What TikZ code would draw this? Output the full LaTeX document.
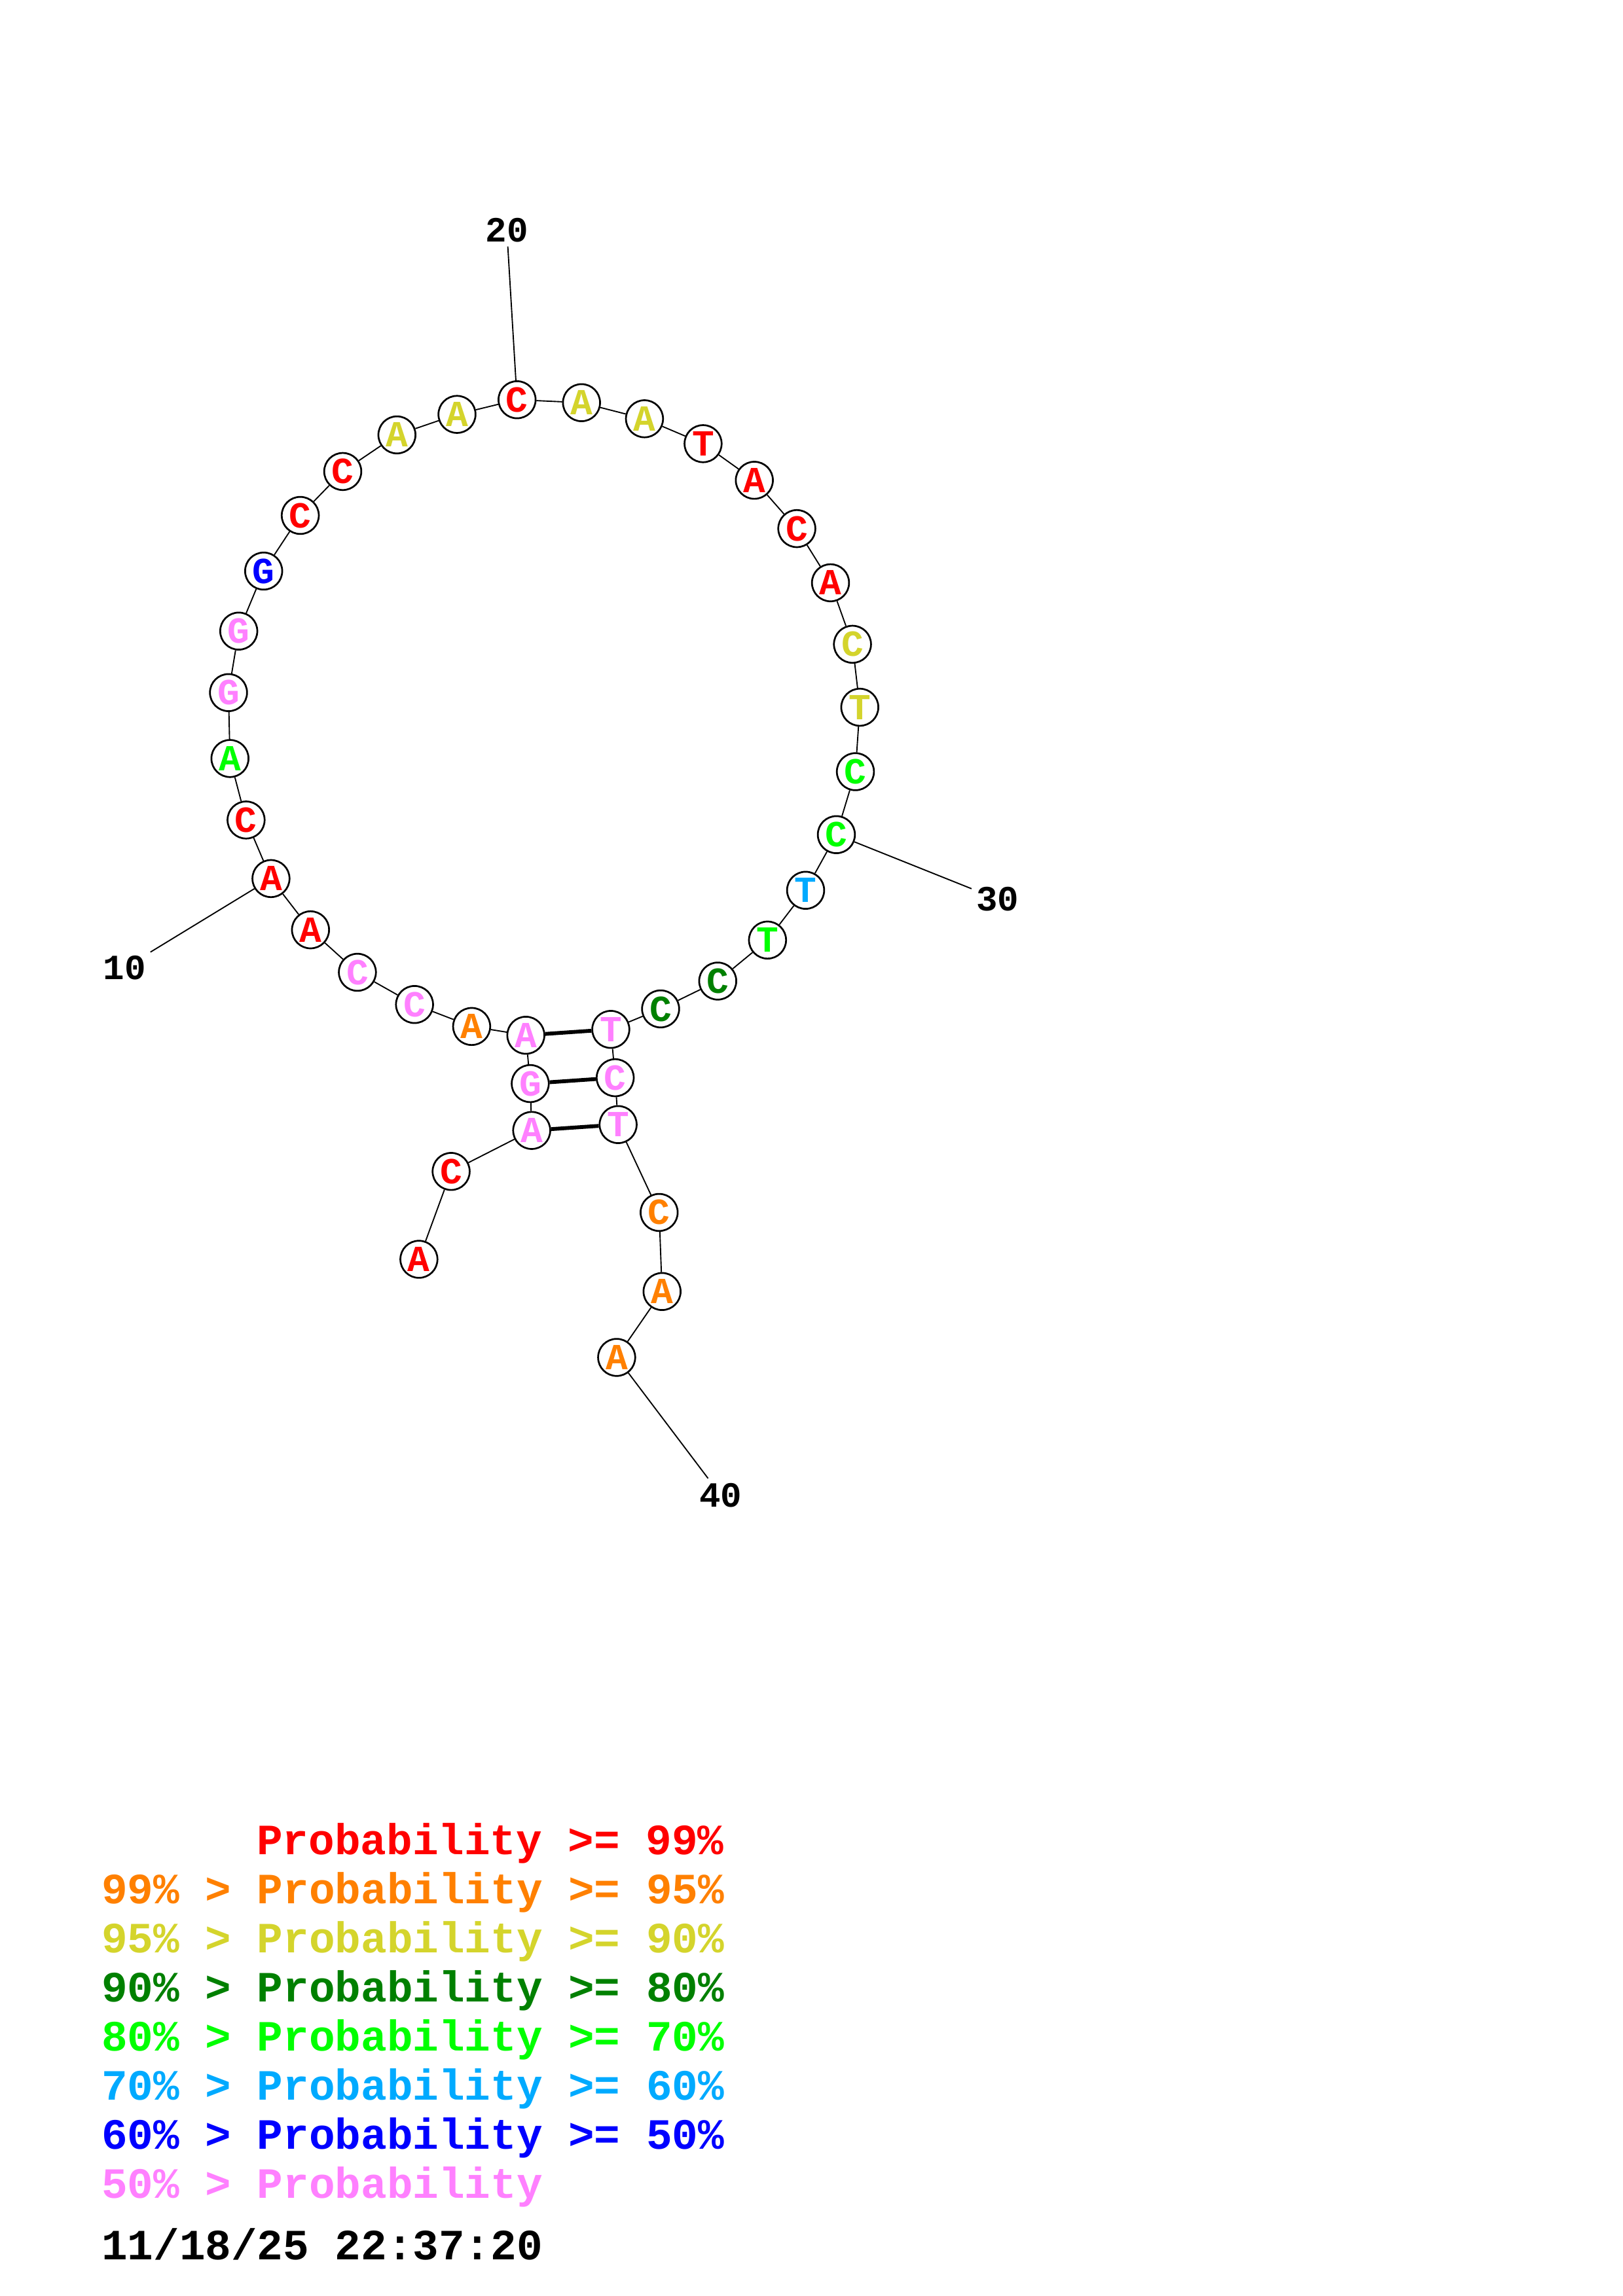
\documentclass[tikz,border=0pt]{standalone}
\usepackage{fontspec}
\setmonofont{Liberation Mono}
\usetikzlibrary{positioning}
\definecolor{cRed}{HTML}{FF0000}
\definecolor{cOrange}{HTML}{FF8000}
\definecolor{cYellow}{HTML}{D4D42C}
\definecolor{cDkGreen}{HTML}{008000}
\definecolor{cLime}{HTML}{00FF00}
\definecolor{cSky}{HTML}{00AAFF}
\definecolor{cBlue}{HTML}{0000FF}
\definecolor{cPink}{HTML}{FF80FF}
\tikzset{
  nt/.style  ={circle,draw=black,fill=white,line width=0.65pt,minimum size=13.6pt,
               inner sep=0pt,font=\ttfamily\bfseries\fontsize{13.5}{13.5}\selectfont},
  bb/.style  ={line width=0.45pt},
  bp/.style  ={line width=1.4pt},
  num/.style ={font=\ttfamily\bfseries\fontsize{13}{13}\selectfont,inner sep=1.5pt},
  leg/.style ={anchor=base west,inner sep=0pt,
               font=\ttfamily\bfseries\fontsize{15.85}{15.85}\selectfont},
}

\begin{document}
\begin{tikzpicture}[x=0.537pt,y=-0.537pt]
\useasboundingbox (0,0) rectangle (1108,1568);
% nucleotides
\foreach \i/\x/\y/\b/\c in {
  1/286/860/A/cRed,   2/308/800/C/cRed,   3/363/772/A/cPink,  4/362/740/G/cPink,
  5/359/707/A/cPink,  6/322/701/A/cOrange,7/283/686/C/cPink,  8/244/664/C/cPink,
  9/212/635/A/cRed,  10/185/600/A/cRed,  11/168/560/C/cRed,  12/157/518/A/cLime,
 13/156/473/G/cPink, 14/163/431/G/cPink, 15/180/390/G/cBlue, 16/205/352/C/cRed,
 17/234/322/C/cRed,  18/271/297/A/cYellow,19/312/283/A/cYellow,20/353/273/C/cRed,
 21/397/275/A/cYellow,22/440/286/A/cYellow,23/480/303/T/cRed,24/515/328/A/cRed,
 25/544/361/C/cRed,  26/567/398/A/cRed,  27/582/440/C/cYellow,28/587/483/T/cYellow,
 29/584/527/C/cLime, 30/571/570/C/cLime, 31/550/608/T/cSky,  32/524/642/T/cLime,
 33/490/670/C/cDkGreen,34/451/689/C/cDkGreen,35/417/703/T/cPink,36/420/736/C/cPink,
 37/422/768/T/cPink, 38/450/828/C/cOrange,39/452/882/A/cOrange,40/421/927/A/cOrange}
  \node[nt,text=\c] (n\i) at (\x,\y) {\b};
% backbone
\foreach \i [count=\j from 2] in {1,...,39}
  \draw[bb] (n\i) -- (n\j);
% pairs
\foreach \a/\b in {3/37,4/36,5/35}
  \draw[bp] (n\a) -- (n\b);
% position marks
\node[num] (l10) at (85,661) {10};
\node[num] (l20) at (346,157) {20};
\node[num] (l30) at (681,614) {30};
\node[num] (l40) at (492,1021) {40};
\foreach \i in {10,20,30,40}
  \draw[bb] (n\i) -- (l\i);
% legend
\node[leg,text=cRed]     (k1) at (175,1266.5) {Probability >= 99\%};
\node[leg,text=cOrange]  (k2) at (69,1300) {99\% > Probability >= 95\%};
\node[leg,text=cYellow]  (k3) at (69,1333.5) {95\% > Probability >= 90\%};
\node[leg,text=cDkGreen] (k4) at (69,1367) {90\% > Probability >= 80\%};
\node[leg,text=cLime]    (k5) at (69,1400.5) {80\% > Probability >= 70\%};
\node[leg,text=cSky]     (k6) at (69,1434) {70\% > Probability >= 60\%};
\node[leg,text=cBlue]    (k7) at (69,1467.5) {60\% > Probability >= 50\%};
\node[leg,text=cPink]    (k8) at (69,1501) {50\% > Probability};
\node[leg]               (dt) at (69,1543) {11/18/25 22:37:20};
\end{tikzpicture}
\end{document}
